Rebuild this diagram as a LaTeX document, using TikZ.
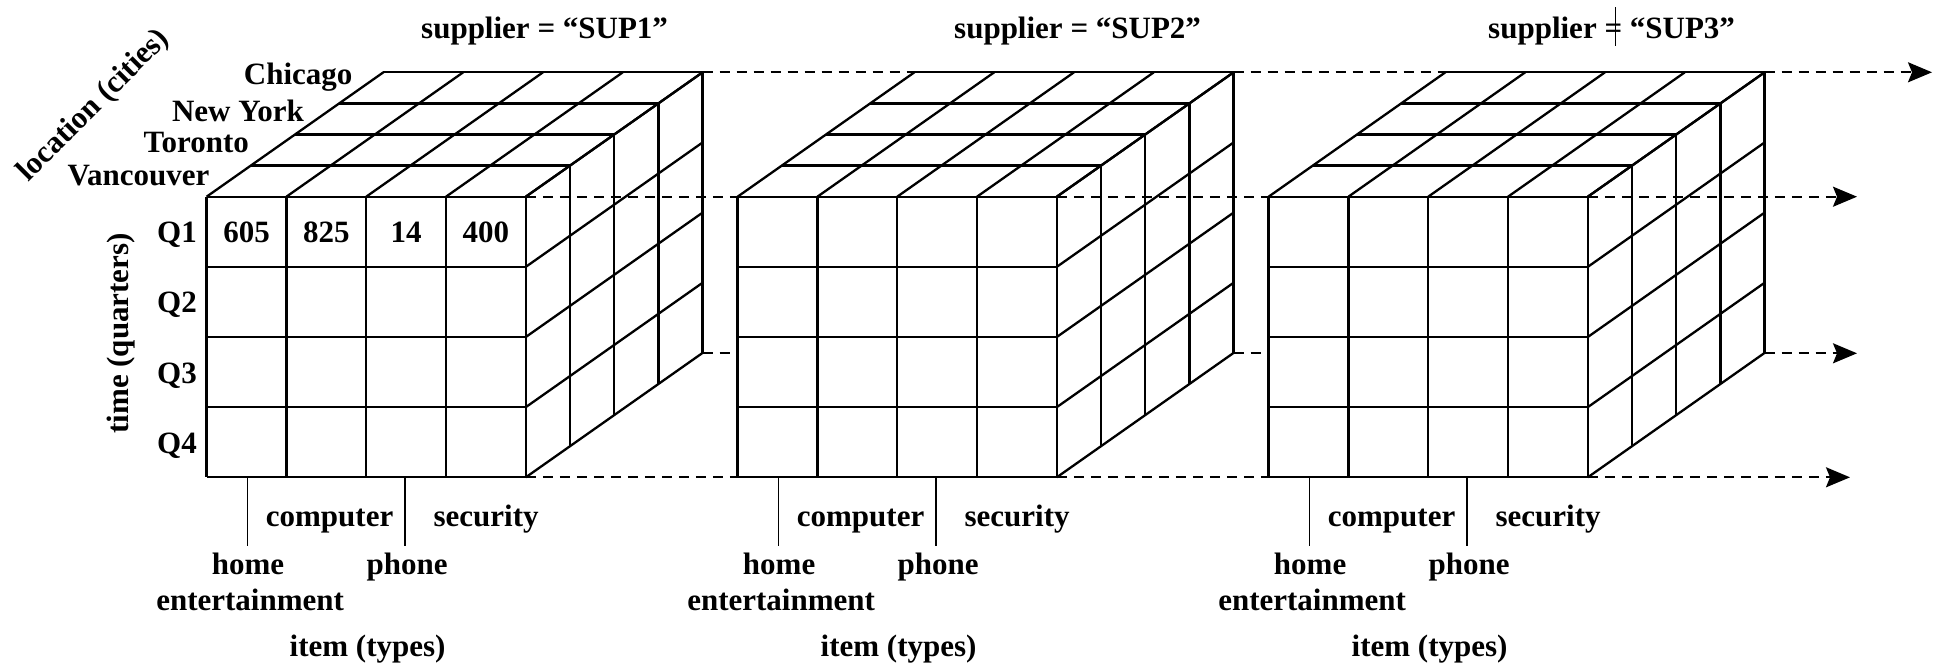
\documentclass[tikz,border=0pt]{standalone}
\usepackage{fontspec}
\setmainfont{Liberation Serif}
\usetikzlibrary{arrows.meta}
\newcommand\drawcube[4]{%
\begin{scope}[shift={(#1,0)}]
  \foreach \i in {0,...,4} {
    \draw[grid] (\i*79.8,196.7) -- (\i*79.8,477.3);
    \draw[grid] (0,196.7+\i*70.15) -- (319.2,196.7+\i*70.15);
    \draw[grid] (\i*79.8,196.7) -- ++(176.8,-124.4);
    \draw[grid] (319.2,196.7+\i*70.15) -- ++(176.8,-124.4);
  }
  \foreach \k in {1,...,4} {
    \draw[grid] (\k*44.2,196.7-\k*31.1) -- ++(319.2,0);
    \draw[grid] (319.2+\k*44.2,196.7-\k*31.1) -- ++(0,280.6);
  }
  \coordinate (#2ftl) at (0,196.7);
  \coordinate (#2ftr) at (319.2,196.7);
  \coordinate (#2fbl) at (0,477.3);
  \coordinate (#2fbr) at (319.2,477.3);
  \coordinate (#2btl) at (176.8,72.3);
  \coordinate (#2btr) at (496,72.3);
  \coordinate (#2bbr) at (496,353.3);
  \coordinate (#2hta) at (41,477.3);
  \coordinate (#2htb) at (41,545.7);
  \coordinate (#2pta) at (198.5,477.3);
  \coordinate (#2ptb) at (198.5,545.7);
  \draw[tick] (#2hta) -- (#2htb);
  \draw[tick] (#2pta) -- (#2ptb);
  \node[lbl, anchor=base] (#2title) at (#4,38.3) {#3};
  \node[lbl, anchor=base] (#2comp) at (123,526) {computer};
  \node[lbl, anchor=base] (#2sec) at (279.5,526) {security};
  \node[lbl, anchor=base] (#2home) at (41.5,574) {home};
  \node[lbl, anchor=base] (#2ent) at (43.5,610) {entertainment};
  \node[lbl, anchor=base] (#2phone) at (200.5,574) {phone};
  \node[lbl, anchor=base] (#2item) at (161,656.7) {item (types)};
\end{scope}}
\begin{document}
\begin{tikzpicture}[x=1pt,y=-1pt,
  grid/.style={line width=2.3pt},
  tick/.style={line width=1.7pt},
  lbl/.style={font=\fontsize{31}{36}\selectfont\bfseries, inner sep=0pt},
  dsh/.style={line width=2pt, dash pattern=on 10pt off 7pt},
  arr/.style={dsh, -{Stealth[length=24pt,width=20pt,inset=4pt]}}]
\useasboundingbox (0,0) rectangle (1941,666);
\drawcube{206.6}{a}{supplier = “SUP1”}{338}
\drawcube{737.6}{b}{supplier = “SUP2”}{340}
\drawcube{1268.6}{c}{supplier = “SUP3”}{343}
% first cube labels
\node[lbl, anchor=base east] (chicago) at (352.6,85) {Chicago};
\node[lbl, anchor=base east] (newyork) at (304,121.7) {New York};
\node[lbl, anchor=base east] (toronto) at (249,153) {Toronto};
\node[lbl, anchor=base east] (vancouver) at (209.5,185) {Vancouver};
\foreach \q/\j in {Q1/0,Q2/1,Q3/2,Q4/3}
  \node[lbl, anchor=base east] (lab\q) at (197,242.7+\j*70.15) {\q};
\foreach \v/\i in {605/0,825/1,14/2,400/3}
  \node[lbl, anchor=base] (val\v) at (246.5+\i*79.8,242.7) {\v};
\node[lbl, rotate=90] (timeax) at (121,333.4) {time (quarters)};
\node[lbl, rotate=45] (locax) at (94,106) {location (cities)};
% artifact bar in third title
\coordinate (bartop) at (1615.5,7.5);
\coordinate (barbot) at (1615.5,46.5);
\draw[line width=1.2pt] (bartop) -- (barbot);
% arrow tips
\coordinate (tip1) at (1932,72.3);
\coordinate (tip2) at (1857,196.7);
\coordinate (tip3) at (1857,353.3);
\coordinate (tip4) at (1850,477.3);
% dashed lines
\draw[dsh] (abtr) -- (bbtl);
\draw[dsh] (bbtr) -- (cbtl);
\draw[arr] (cbtr) -- (tip1);
\draw[dsh] (aftr) -- (bftl);
\draw[dsh] (bftr) -- (cftl);
\draw[arr] (cftr) -- (tip2);
\draw[dsh] (abbr) -- (abbr -| bftl);
\draw[dsh] (bbbr) -- (bbbr -| cftl);
\draw[arr] (cbbr) -- (tip3);
\draw[dsh] (afbr) -- (bfbl);
\draw[dsh] (bfbr) -- (cfbl);
\draw[arr] (cfbr) -- (tip4);
\end{tikzpicture}
\end{document}
